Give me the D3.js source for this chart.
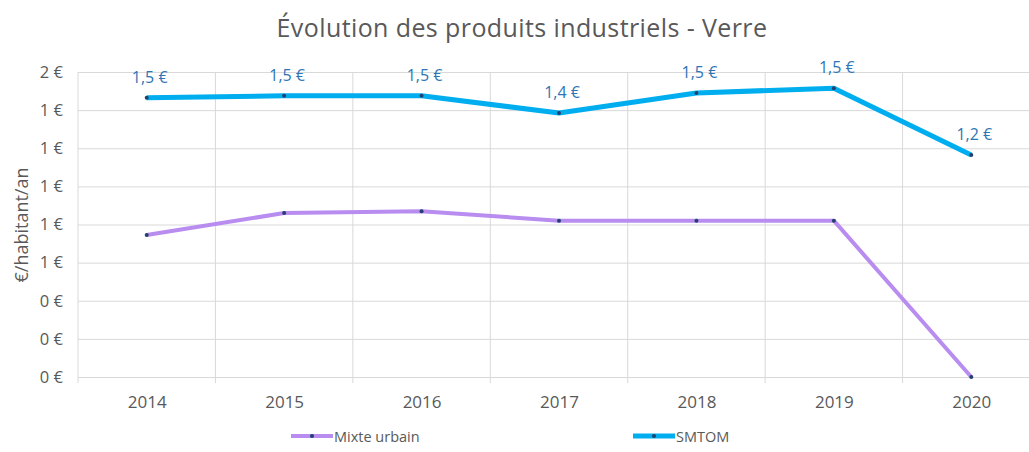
<!DOCTYPE html>
<html>
<head>
<meta charset="utf-8">
<script src="https://cdn.jsdelivr.net/npm/d3@7"></script>
<style>
  body { margin: 0; background: #fff; }
  text { font-family: "Open Sans", "DejaVu Sans", sans-serif; }
</style>
</head>
<body>
<div id="chart"></div>
<script>
const width = 1029;
const height = 452;

// Data
const years = ["2014", "2015", "2016", "2017", "2018", "2019", "2020"];
const mixteUrbain = [0.745, 0.86, 0.87, 0.82, 0.82, 0.82, 0];
const smtom = [1.465, 1.475, 1.475, 1.385, 1.49, 1.515, 1.165];
const smtomLabels = ["1,5 €", "1,5 €", "1,5 €", "1,4 €", "1,5 €", "1,5 €", "1,2 €"];
const yTicks = [0, 0.2, 0.4, 0.6, 0.8, 1.0, 1.2, 1.4, 1.6];

const series = [
  { name: "Mixte urbain", values: mixteUrbain, color: "#b98cf0", width: 4 },
  { name: "SMTOM", values: smtom, color: "#00aeef", width: 5 }
];

const plot = { left: 78, right: 1040, top: 72, bottom: 377 };

let x = d3.scalePoint().domain(years).range([plot.left, plot.right]).padding(0.5);
let y = d3.scaleLinear().domain([0, 1.6]).range([plot.bottom, plot.top]);

let svg = d3.select("#chart").append("svg")
  .attr("width", width)
  .attr("height", height);

// Title
svg.append("text")
  .attr("x", 522)
  .attr("y", 37)
  .attr("text-anchor", "middle")
  .attr("font-size", 25)
  .attr("letter-spacing", 0.4)
  .attr("fill", "#595959")
  .text("Évolution des produits industriels - Verre");

// Horizontal gridlines + y tick labels
let yAxis = d3.axisLeft(y)
  .tickValues(yTicks)
  .tickSize(-(plot.right - plot.left))
  .tickPadding(15)
  .tickFormat(d => d3.format(".0f")(d) + " €");

let gy = svg.append("g")
  .attr("transform", `translate(${plot.left},0)`)
  .call(yAxis);
gy.select(".domain").remove();
gy.selectAll(".tick line").attr("stroke", "#d9d9d9");
gy.selectAll(".tick text")
  .attr("font-size", 16.5)
  .attr("fill", "#595959")
  .style("font-family", "'Open Sans', sans-serif");

// Vertical gridlines between categories
let step = x.step();
let bounds = d3.range(years.length + 1).map(i => plot.left + i * step);
svg.append("g").selectAll("line")
  .data(bounds)
  .enter().append("line")
  .attr("x1", d => d).attr("x2", d => d)
  .attr("y1", plot.top).attr("y2", plot.bottom + 6)
  .attr("stroke", "#d9d9d9");

// x tick labels
let xAxis = d3.axisBottom(x).tickSize(0).tickPadding(19);
let gx = svg.append("g")
  .attr("transform", `translate(0,${plot.bottom})`)
  .call(xAxis);
gx.select(".domain").remove();
gx.selectAll(".tick text")
  .attr("font-size", 17)
  .attr("fill", "#595959")
  .style("font-family", "'Open Sans', sans-serif");

// Y axis title
svg.append("text")
  .attr("transform", "translate(28,225) rotate(-90)")
  .attr("text-anchor", "middle")
  .attr("font-size", 18)
  .attr("fill", "#595959")
  .text("€/habitant/an");

// Lines
let line = d3.line()
  .x((d, i) => x(years[i]))
  .y(d => y(d));

series.forEach(s => {
  svg.append("path")
    .datum(s.values)
    .attr("d", line)
    .attr("fill", "none")
    .attr("stroke", s.color)
    .attr("stroke-width", s.width)
    .attr("stroke-linejoin", "round");
  svg.append("g").selectAll("circle")
    .data(s.values)
    .enter().append("circle")
    .attr("cx", (d, i) => x(years[i]))
    .attr("cy", d => y(d))
    .attr("r", 2)
    .attr("fill", "#23406e");
});

// SMTOM data labels
svg.append("g").selectAll("text")
  .data(smtom)
  .enter().append("text")
  .attr("x", (d, i) => x(years[i]) + 3)
  .attr("y", d => y(d) - 15)
  .attr("text-anchor", "middle")
  .attr("font-size", 16)
  .attr("fill", "#2e75b6")
  .text((d, i) => smtomLabels[i]);

// Legend
let legend = [
  { s: series[0], x0: 291 },
  { s: series[1], x0: 633 }
];
legend.forEach(l => {
  let g = svg.append("g");
  g.append("line")
    .attr("x1", l.x0).attr("x2", l.x0 + 42)
    .attr("y1", 436).attr("y2", 436)
    .attr("stroke", l.s.color)
    .attr("stroke-width", l.s.width);
  g.append("circle")
    .attr("cx", l.x0 + 21).attr("cy", 436).attr("r", 2)
    .attr("fill", "#23406e");
  g.append("text")
    .attr("x", l.x0 + 43)
    .attr("y", 442)
    .attr("font-size", 14.5)
    .attr("fill", "#595959")
    .text(l.s.name);
});
</script>
</body>
</html>
